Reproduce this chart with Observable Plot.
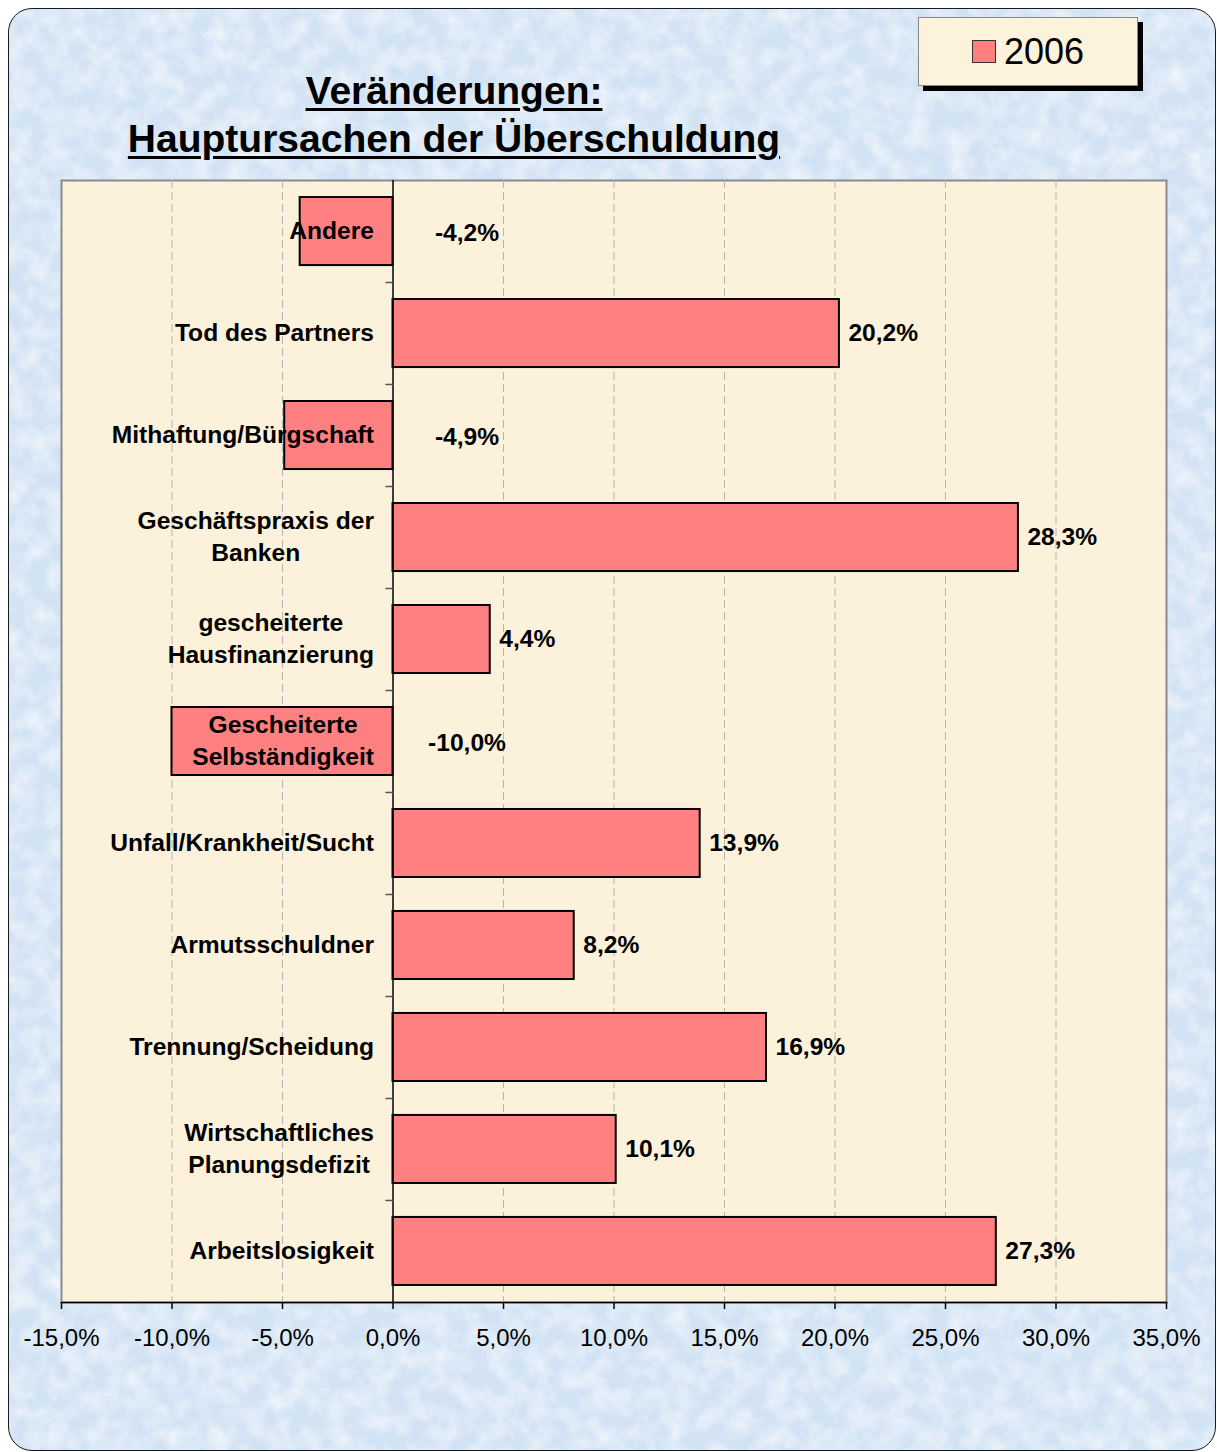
<!DOCTYPE html>
<html>
<head>
<meta charset="utf-8">
<script src="https://cdn.jsdelivr.net/npm/d3@7"></script>
<script src="https://cdn.jsdelivr.net/npm/@observablehq/plot@0.6"></script>
<style>
  html, body { margin: 0; padding: 0; background: #fff; }
  body { width: 1217px; height: 1452px; position: relative; overflow: hidden; font-family: Arial, "Liberation Sans", sans-serif; }
  #panel {
    position: absolute; left: 8px; top: 8px; width: 1206px; height: 1441px;
    border: 1.5px solid #1a1a1a; border-radius: 24px;
    background-color: #d1e2f4;
    background-image: url("data:image/svg+xml,%3Csvg xmlns='http://www.w3.org/2000/svg' width='1210' height='1445'%3E%3Cfilter id='n'%3E%3CfeTurbulence type='fractalNoise' baseFrequency='0.05' numOctaves='4' seed='7'/%3E%3CfeColorMatrix values='0 0 0 0 1  0 0 0 0 1  0 0 0 0 1  1.1 0 0 0 -0.35'/%3E%3C/filter%3E%3Crect width='100%25' height='100%25' filter='url(%23n)'/%3E%3C/svg%3E");
    background-repeat: no-repeat;
  }
  #title {
    position: absolute; left: 0; top: 67px; width: 908px; text-align: center;
    font-weight: bold; font-size: 39px; line-height: 48px; text-decoration: underline;
    text-decoration-thickness: 3px; text-underline-offset: 4px; color: #000;
  }
  #legend {
    position: absolute; left: 918px; top: 17px; width: 220px; height: 69px; box-sizing: border-box;
    background: #fdf3dd; border: 1px solid #888; box-shadow: 5px 5px 0 #000;
    display: flex; align-items: center; justify-content: center; gap: 8px;
  }
  #legend .sw { width: 24px; height: 23px; box-sizing: border-box; background: #ff8080; border: 1.5px solid #333; }
  #legend .lb { font-size: 36px; color: #000; line-height: 1; }
  #chart { position: absolute; left: 0; top: 170px; }
</style>
</head>
<body>
<div id="panel"></div>
<div id="title">Veränderungen:<br>Hauptursachen der Überschuldung</div>
<div id="legend"><div class="sw"></div><div class="lb">2006</div></div>
<div id="chart"></div>
<script>
const categories = [
  "Andere",
  "Tod des Partners",
  "Mithaftung/Bürgschaft",
  "Geschäftspraxis der\nBanken",
  "gescheiterte\nHausfinanzierung",
  "Gescheiterte\nSelbständigkeit",
  "Unfall/Krankheit/Sucht",
  "Armutsschuldner",
  "Trennung/Scheidung",
  "Wirtschaftliches\nPlanungsdefizit",
  "Arbeitslosigkeit"
];
const values2006 = [-4.2, 20.2, -4.9, 28.3, 4.4, -10.0, 13.9, 8.2, 16.9, 10.1, 27.3];
const xTicks = [-15, -10, -5, 0, 5, 10, 15, 20, 25, 30, 35];

const data = categories.map((c, i) => ({cat: c, value: values2006[i]}));
const fmt = d => d.toFixed(1).replace(".", ",") + "%";
const font = "Arial, 'Liberation Sans', sans-serif";

const chart = Plot.plot({
  width: 1217,
  height: 1282,
  marginLeft: 61,
  marginRight: 51,
  marginTop: 10,
  marginBottom: 150,
  style: {fontFamily: font, background: "transparent", color: "#000", overflow: "visible"},
  x: {domain: [-15, 35]},
  y: {domain: categories, paddingInner: 0.333, paddingOuter: 0.167, round: false, axis: null},
  marks: [
    Plot.frame({fill: "#fcf2dc", stroke: "#8a8a8a", strokeWidth: 2}),
    Plot.gridX(xTicks.filter(d => d !== -15 && d !== 35 && d !== 0), {stroke: "#b5b5b5", strokeOpacity: 1, strokeDasharray: "8,4", strokeWidth: 1}),
    Plot.barX(data, {x: "value", y: "cat", fill: "#ff8080", stroke: "#000", strokeWidth: 2}),
    Plot.ruleX([0], {stroke: "#000", strokeWidth: 1.5}),
    Plot.vector(categories.slice(0, -1), {
      x: 0, y: d => d, dy: 51, rotate: -90, length: 7, anchor: "start",
      stroke: "#555", strokeWidth: 1.5,
      shape: {draw(context, l) { context.moveTo(0, 0); context.lineTo(0, -l); }}
    }),
    Plot.text(data, {
      x: 0, y: "cat", text: "cat", textAnchor: "end", dx: -19, dy: -3,
      fontWeight: "bold", fontSize: 24.6, lineHeight: 1.33, fill: "#000"
    }),
    Plot.text(data.filter(d => d.value > 0), {
      x: "value", y: "cat", text: d => fmt(d.value), textAnchor: "start", dx: 9,
      fontWeight: "bold", fontSize: 24.6, fill: "#000"
    }),
    Plot.text(data.filter(d => d.value < 0), {
      x: 0, y: "cat", text: d => fmt(d.value), textAnchor: "middle", dx: 74, dy: 2,
      fontWeight: "bold", fontSize: 24.6, fill: "#000"
    }),
    Plot.frame({anchor: "bottom", stroke: "#000", strokeWidth: 1.5}),
    Plot.axisX({ticks: xTicks, tickSize: 7, tickPadding: 19, tickFormat: fmt, fontSize: 24, label: null, stroke: "#000", strokeWidth: 1.5})
  ]
});

document.getElementById("chart").appendChild(chart);

// Centre multi-line category labels on each other, with the block right-aligned at the axis.
const labelGroup = chart.querySelectorAll('g[aria-label="text"]')[0];
if (labelGroup) {
  labelGroup.querySelectorAll("text").forEach(t => {
    const spans = t.querySelectorAll("tspan");
    let w = 0;
    if (spans.length) spans.forEach(s => { w = Math.max(w, s.getComputedTextLength()); });
    else w = t.getComputedTextLength();
    t.setAttribute("text-anchor", "middle");
    t.setAttribute("transform", (t.getAttribute("transform") || "") + ` translate(${-w / 2},0)`);
  });
}
</script>
</body>
</html>
